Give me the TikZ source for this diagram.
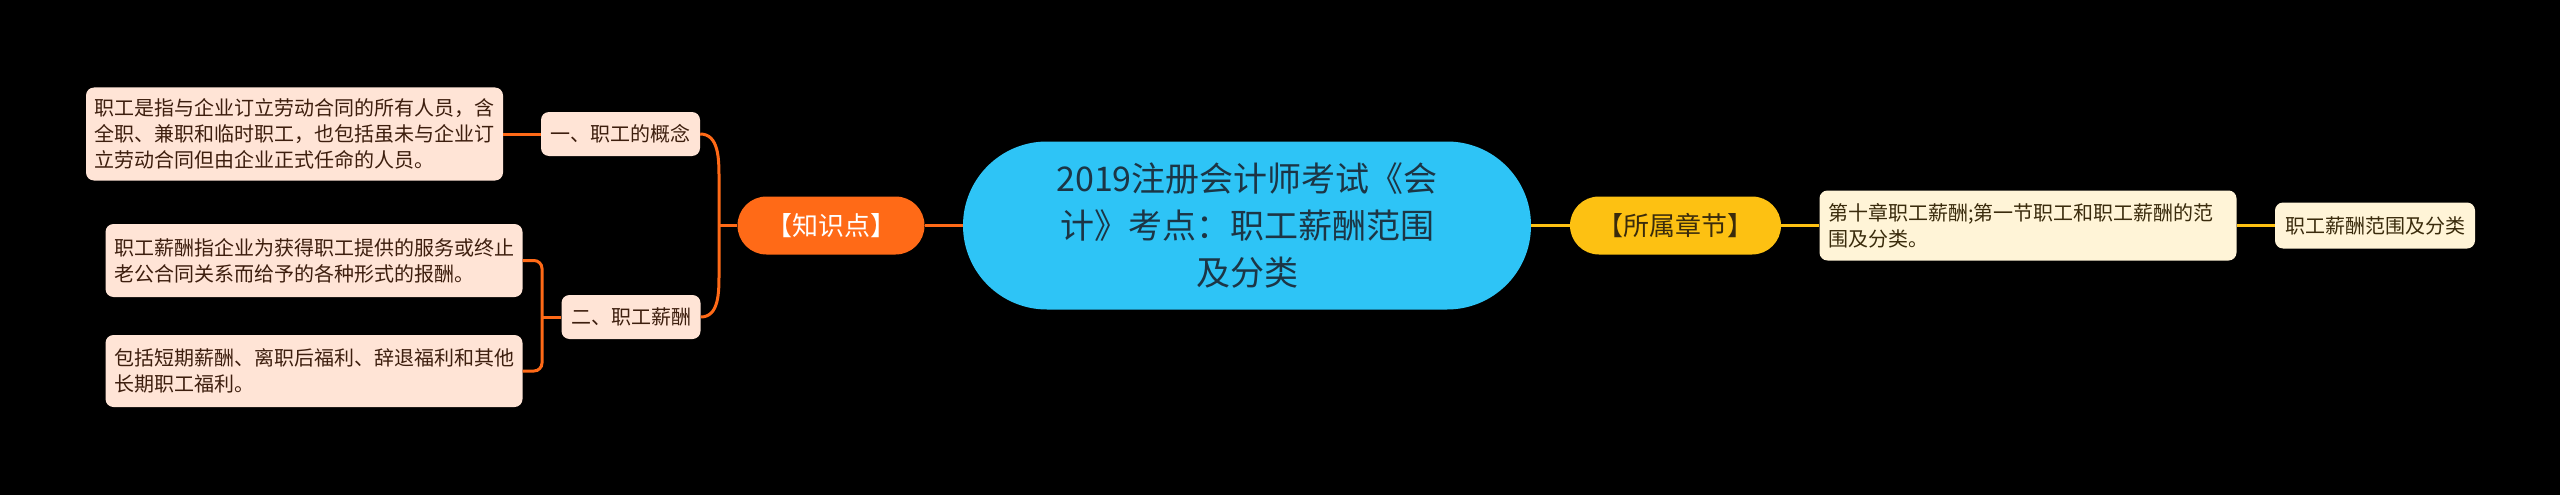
\documentclass[tikz,border=0pt]{standalone}
\usepackage{fontspec}
\setmainfont{Noto Sans CJK SC}
\usetikzlibrary{calc}

\definecolor{kporange}{HTML}{FF6A17}
\definecolor{peach}{HTML}{FFE4D6}
\definecolor{brownink}{HTML}{3D1E0E}
\definecolor{skyblue}{HTML}{2EC4F6}
\definecolor{topicink}{HTML}{1C3545}
\definecolor{goldy}{HTML}{FDC112}
\definecolor{cream}{HTML}{FFF4D7}
\definecolor{darkink}{HTML}{3A2B0C}

\tikzset{
    kline/.style={kporange, line width=3pt},
    yline/.style={goldy, line width=3pt},
    peachbox/.style={fill=peach, text=brownink, rounded corners=8pt, align=left, text width=400pt, inner xsep=8.5pt, inner ysep=0pt, font={\fontsize{20}{26}\selectfont}},
    creambox/.style={peachbox, fill=cream, text=darkink},
    peachtag/.style={fill=peach, text=brownink, rounded corners=8pt, inner xsep=9.5pt, inner ysep=0pt, minimum height=44pt, font={\fontsize{20}{26}\selectfont}},
    creamtag/.style={peachtag, fill=cream, text=darkink, inner xsep=10pt, minimum height=46pt},
    pill/.style={rounded corners=28.9pt, minimum height=58pt, inner sep=0pt, font={\fontsize{26}{30}\selectfont}}
}

\begin{document}
\begin{tikzpicture}[x=1pt, y=-1pt]
        \fill[black] (0,0) rectangle (2560,495);
        
        \node[fill=skyblue, text=topicink, rounded corners=83.9pt, minimum width=568pt, minimum height=168pt, inner sep=0pt, align=center, font={\fontsize{34}{47}\selectfont}] (topic) at (1247,225.5) {2019注册会计师考试《会\\计》考点：职工薪酬范围\\及分类};
        
        \node[pill, fill=kporange, text=white, minimum width=187pt] (kp) at (831,225.5) {【知识点】};
        \node[pill, fill=goldy, text=darkink, minimum width=211pt] (chap) at (1675.5,225.5) {【所属章节】};
        
        \node[peachtag] (concept) at (620.5,134) {一、职工的概念};
        \node[peachtag] (salary) at (631,317) {二、职工薪酬};
        
        \node[peachbox, minimum height=93pt] (conceptdef) at (294.5,134) {职工是指与企业订立劳动合同的所有人员，含\\全职、兼职和临时职工，也包括虽未与企业订\\立劳动合同但由企业正式任命的人员。};
        \node[peachbox, minimum height=73pt] (salarydef) at (314,260.5) {职工薪酬指企业为获得职工提供的服务或终止\\老公合同关系而给予的各种形式的报酬。};
        \node[peachbox, minimum height=72pt] (salaryscope) at (314,371) {包括短期薪酬、离职后福利、辞退福利和其他\\长期职工福利。};
        
        \node[creambox, minimum height=70pt] (chapdetail) at (2028,225.5) {第十章职工薪酬;第一节职工和职工薪酬的范\\围及分类。};
        \node[creamtag] (scope) at (2375,225.5) {职工薪酬范围及分类};
        
        \coordinate (kpj) at (719,225.5);
        \coordinate (salj) at (542,317);
        
        \draw[kline] (topic) -- (kp);
        \draw[kline] (kp.west) -- (kpj);
        \draw[kline] (concept.east) to[out=0, in=90] ($(kpj)+(0,-48)$) -- ($(kpj)+(0,48)$) to[out=-90, in=0] (salary.east);
        \draw[kline] (concept) -- (conceptdef);
        \draw[kline] (salary.west) -- (salj);
        \draw[kline, rounded corners=8pt] (salarydef.east) -| (salj) |- (salaryscope.east);
        
        \draw[yline] (topic) -- (chap)
            (chap) -- (chapdetail)
            (chapdetail) -- (scope);
\end{tikzpicture}
\end{document}
